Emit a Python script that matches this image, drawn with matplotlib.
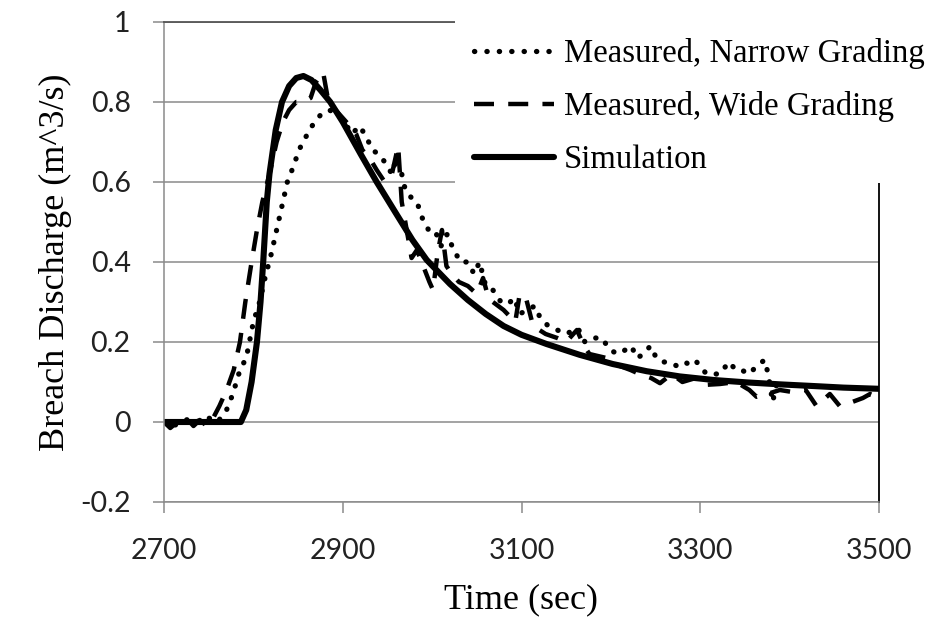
import numpy as np
import matplotlib
matplotlib.use('Agg')
import matplotlib.pyplot as plt
from matplotlib.patches import Rectangle
from matplotlib.lines import Line2D

# simulation
sim_t = [2700, 2786, 2792, 2798, 2804, 2808, 2811, 2815, 2818, 2825, 2832, 2840, 2848,
         2856, 2865, 2875, 2886, 2900, 2920, 2938, 2960, 2978, 2994, 3020, 3040, 3060,
         3080, 3100, 3128, 3165, 3202, 3240, 3277, 3315, 3352, 3390, 3426, 3460, 3500]
sim_q = [0.0, 0.0, 0.03, 0.10, 0.20, 0.30, 0.40, 0.55, 0.62, 0.73, 0.80, 0.84, 0.86,
         0.865, 0.855, 0.83, 0.80, 0.75, 0.67, 0.60, 0.52, 0.455, 0.405, 0.345, 0.305, 0.27,
         0.24, 0.218, 0.195, 0.168, 0.145, 0.127, 0.114, 0.105, 0.099, 0.094, 0.09, 0.086, 0.083]

# measured, narrow grading
narrow_t = [2700, 2710, 2720, 2730, 2740, 2750, 2760, 2770, 2777, 2785, 2792, 2800, 2807,
            2813, 2820, 2826, 2832, 2838, 2845, 2851, 2858, 2867, 2876, 2885, 2893, 2902,
            2910, 2919, 2927, 2933, 2940, 2947, 2955, 2960, 2966, 2970, 2977, 2983, 2989,
            2996, 3003, 3010, 3017, 3024, 3032, 3040, 3047, 3053, 3060, 3068, 3077, 3085,
            3092, 3098, 3106, 3115, 3121, 3130, 3140, 3150, 3163, 3171, 3180, 3190, 3199,
            3208, 3216, 3223, 3229, 3237, 3244, 3251, 3258, 3265, 3274, 3283, 3290, 3296,
            3307, 3315, 3322, 3332, 3340, 3346, 3355, 3363, 3372, 3376, 3381, 3386, 3391]
narrow_q = [0.0, -0.01, 0.0, 0.01, 0.0, 0.01, 0.0, 0.03, 0.07, 0.13, 0.16, 0.25, 0.30,
            0.36, 0.42, 0.48, 0.54, 0.60, 0.64, 0.68, 0.71, 0.745, 0.77, 0.78, 0.77, 0.75,
            0.72, 0.74, 0.71, 0.68, 0.67, 0.65, 0.62, 0.66, 0.62, 0.58, 0.56, 0.55, 0.51,
            0.48, 0.48, 0.44, 0.47, 0.43, 0.40, 0.40, 0.37, 0.40, 0.34, 0.33, 0.30, 0.295,
            0.31, 0.27, 0.28, 0.29, 0.26, 0.24, 0.23, 0.22, 0.235, 0.20, 0.21, 0.21, 0.18,
            0.17, 0.18, 0.19, 0.16, 0.17, 0.19, 0.16, 0.15, 0.15, 0.14, 0.15, 0.14, 0.15,
            0.12, 0.12, 0.12, 0.15, 0.13, 0.13, 0.12, 0.14, 0.155, 0.12, 0.05, 0.10, 0.115]

# measured, wide grading
wide_t = [2700, 2707, 2715, 2725, 2733, 2740, 2748, 2755, 2762, 2770, 2778, 2785, 2791,
          2798, 2804, 2810, 2818, 2826, 2833, 2840, 2848, 2856, 2864, 2870, 2878, 2884,
          2892, 2900, 2908, 2915, 2922, 2930, 2938, 2947, 2955, 2962, 2966, 2970, 2977,
          2983, 2990, 2997, 3001, 3006, 3011, 3016, 3022, 3030, 3040, 3050, 3057, 3063,
          3068, 3080, 3093, 3098, 3105, 3113, 3127, 3140, 3150, 3162, 3170, 3176, 3195,
          3210, 3222, 3232, 3245, 3255, 3268, 3280, 3295, 3307, 3322, 3340, 3355, 3363,
          3375, 3389, 3403, 3418, 3430, 3445, 3456, 3470, 3482, 3490, 3500]
wide_q = [0.0, -0.015, 0.0, 0.01, -0.01, 0.005, -0.01, 0.01, 0.04, 0.08, 0.13, 0.20, 0.30,
          0.40, 0.48, 0.55, 0.62, 0.70, 0.75, 0.78, 0.80, 0.80, 0.81, 0.85, 0.875, 0.80,
          0.78, 0.76, 0.74, 0.72, 0.68, 0.66, 0.63, 0.60, 0.62, 0.69, 0.55, 0.50, 0.41,
          0.43, 0.39, 0.35, 0.33, 0.42, 0.48, 0.39, 0.37, 0.35, 0.34, 0.32, 0.36, 0.31,
          0.30, 0.28, 0.25, 0.32, 0.31, 0.24, 0.22, 0.21, 0.20, 0.23, 0.19, 0.17, 0.16,
          0.14, 0.13, 0.12, 0.11, 0.097, 0.12, 0.10, 0.11, 0.093, 0.095, 0.10, 0.08, 0.063,
          0.07, 0.08, 0.075, 0.08, 0.04, 0.07, 0.04, 0.05, 0.06, 0.07, 0.06]

labels = ['Measured, Narrow Grading', 'Measured, Wide Grading', 'Simulation']
x_ticks = [2700, 2900, 3100, 3300, 3500]
y_ticks = [-0.2, 0, 0.2, 0.4, 0.6, 0.8, 1]
y_ticklabels = ['-0.2', '0', '0.2', '0.4', '0.6', '0.8', '1']

serif = ['Liberation Serif', 'DejaVu Serif']
grid_c = '#8a8a8a'

fig = plt.figure(figsize=(9.3, 6.23), dpi=100)
ax = fig.add_axes([164/930, 1-502/623, 715/930, 480/623])

dot_style = dict(color='black', lw=3.8, linestyle=(0, (0.05, 2.3)),
                 dash_capstyle='round', solid_joinstyle='round')
dash_style = dict(color='black', lw=3.2, linestyle=(0, (4.5, 3.2)), dash_capstyle='butt')
sim_style = dict(color='black', lw=4.4, solid_capstyle='round', solid_joinstyle='round')

ax.plot(narrow_t, narrow_q, **dot_style)
ax.plot(wide_t, wide_q, **dash_style)
ax.plot(sim_t, sim_q, **sim_style)

ax.set_xlim(2700, 3500)
ax.set_ylim(-0.2, 1)
ax.set_xticks(x_ticks)
ax.set_yticks(y_ticks)
ax.set_yticklabels(y_ticklabels)
ax.grid(axis='y', color=grid_c, lw=1.1)
ax.set_axisbelow(True)
for lab in ax.get_xticklabels() + ax.get_yticklabels():
    lab.set_family('Lato')
    lab.set_fontsize(20.5)
    lab.set_color('#222222')
ax.tick_params(axis='x', direction='out', length=8, width=1.1, color=grid_c, pad=18)
ax.tick_params(axis='y', direction='out', length=8, width=1.1, color=grid_c, pad=16)

for s in ['left', 'bottom']:
    ax.spines[s].set_color(grid_c)
    ax.spines[s].set_linewidth(1.1)
ax.spines['top'].set_color('#555555')
ax.spines['top'].set_linewidth(1.3)
ax.spines['right'].set_color('black')
ax.spines['right'].set_linewidth(1.3)

ax.set_xlabel('Time (sec)', family=serif, fontsize=26, labelpad=14)
ax.set_ylabel('Breach Discharge (m^3/s)', family=serif, fontsize=26, labelpad=6)

# white legend area over the top right corner
fig.add_artist(Rectangle((455/930, 1-183/623), 1, 1, transform=fig.transFigure,
                         facecolor='white', edgecolor='none', zorder=5))
handles = [Line2D([], [], **dot_style), Line2D([], [], **dash_style), Line2D([], [], **sim_style)]
leg = fig.legend(handles, labels, loc='upper left', bbox_to_anchor=(461/930, 1-25/623),
                 frameon=False, prop=dict(family=serif, size=23.6), handlelength=2.45,
                 handletextpad=0.28, labelspacing=0.68, borderaxespad=0)
leg.set_zorder(6)

fig.savefig('out.png', dpi=100)
